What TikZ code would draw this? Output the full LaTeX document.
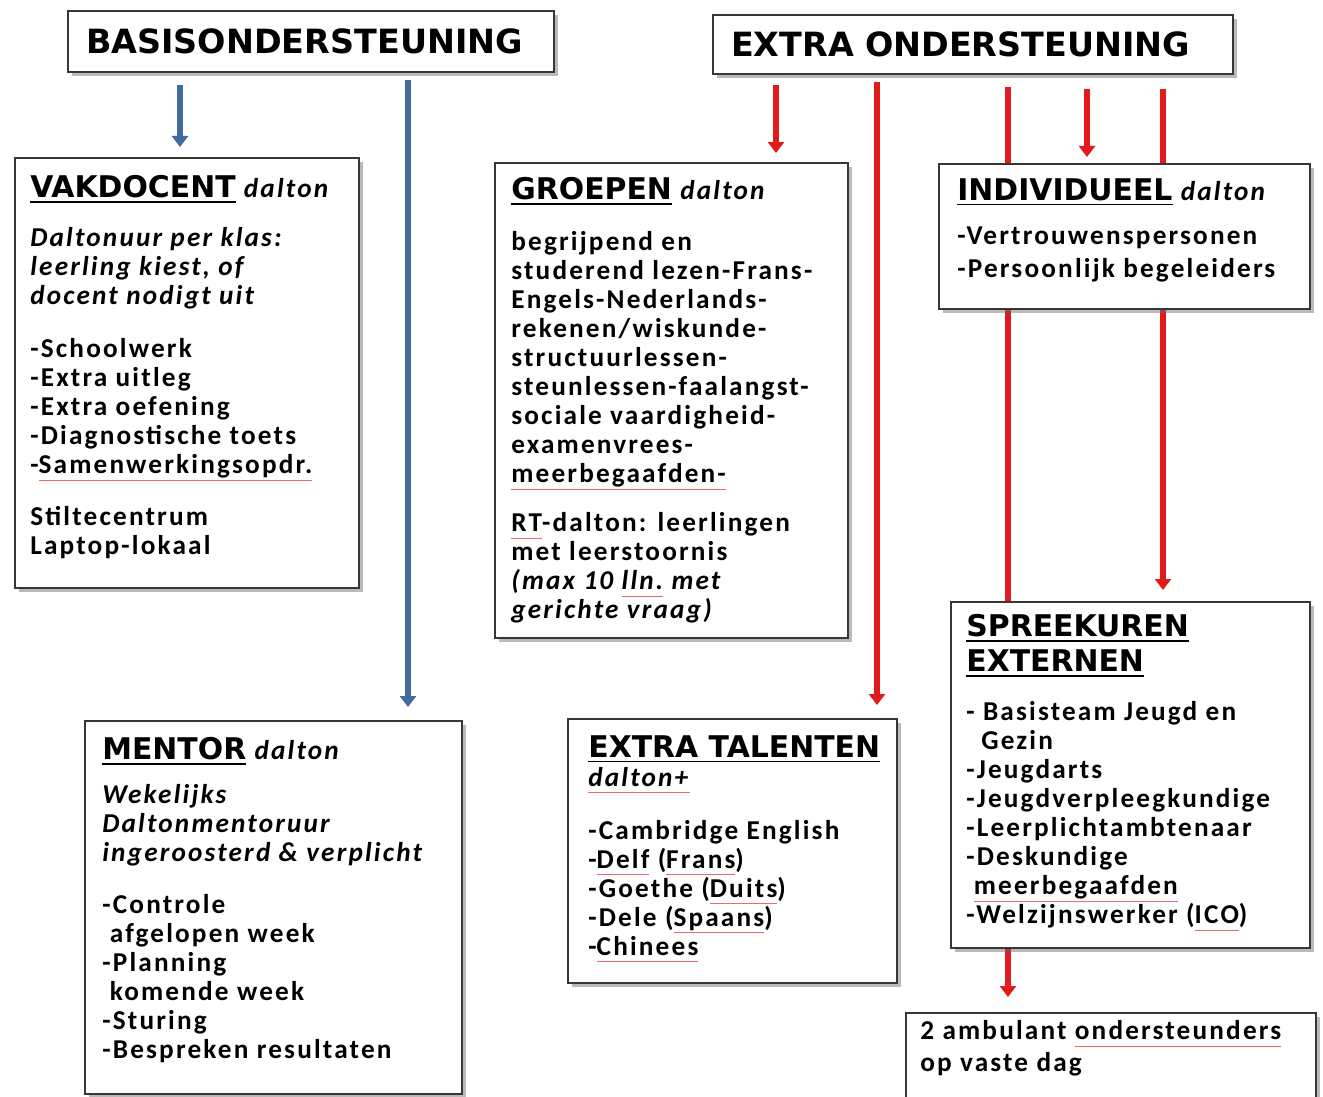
\documentclass[tikz,border=0pt]{standalone}
\usepackage{fontspec}
\setmainfont[LetterSpace=8]{Carlito}
\newfontfamily\headfont{DejaVu Sans}
\usetikzlibrary{arrows.meta,shadows,backgrounds}

\definecolor{basisblue}{RGB}{66,106,156}
\definecolor{extrared}{RGB}{226,26,26}
\definecolor{boxline}{RGB}{55,55,55}

\newsavebox{\linebox}
\newcommand{\hd}[1]{{\headfont\bfseries\fontsize{17}{20}\selectfont
  \sbox{\linebox}{#1}\rlap{\rule[-0.17em]{\wd\linebox}{0.9pt}}\usebox{\linebox}}}
\newcommand{\spell}[1]{\sbox{\linebox}{#1}%
  \rlap{\textcolor{extrared!65}{\rule[-0.55ex]{\wd\linebox}{0.6pt}}}\usebox{\linebox}}

\tikzset{
  box/.style={draw=boxline, line width=1.3pt, fill=white, anchor=north west, inner sep=0pt,
    drop shadow={shadow xshift=0.07cm, shadow yshift=-0.07cm, opacity=0.45, fill=black!60}},
  title/.style={box, inner xsep=0.36cm, align=left, font=\headfont\bfseries\fontsize{19}{22}\selectfont},
  txt/.style={anchor=north west, align=left, inner sep=0pt},
  bluearrow/.style={draw=basisblue, line width=3.4pt, -{Triangle[width=0.32cm,length=0.22cm]}},
  redarrow/.style={draw=extrared, line width=3.4pt, -{Triangle[width=0.32cm,length=0.22cm]}},
  redline/.style={draw=extrared, line width=3.4pt}
}

\begin{document}
\begin{tikzpicture}[font=\bfseries\fontsize{15.5}{16.5}\selectfont]
  \useasboundingbox (0,0) rectangle (26.46,-21.94);

  % top titles
  \node[title, text width=9.0cm, minimum height=1.22cm] (basis) at (1.34,-0.2) {BASISONDERSTEUNING};
  \node[title, text width=9.68cm, minimum height=1.18cm] (extra) at (14.24,-0.28) {EXTRA ONDERSTEUNING};

  % boxes
  \node[box, minimum width=6.88cm, minimum height=8.6cm] (vak) at (0.28,-3.14) {};
  \node[box, minimum width=7.06cm, minimum height=9.5cm] (groepen) at (9.88,-3.24) {};
  \node[box, minimum width=7.42cm, minimum height=2.9cm] (indiv) at (18.76,-3.26) {};
  \node[box, minimum width=7.18cm, minimum height=6.92cm] (spreek) at (19.0,-12.02) {};
  \node[box, minimum width=7.54cm, minimum height=7.46cm] (mentor) at (1.68,-14.4) {};
  \node[box, minimum width=6.58cm, minimum height=5.28cm] (talent) at (11.34,-14.36) {};
  \node[box, minimum width=8.2cm, minimum height=2.6cm] (ambu) at (18.1,-20.24) {};

  % texts
  \node[txt] (vaktext) at ([shift={(0.32,-0.36)}]vak.north west) {%
    \hd{VAKDOCENT} \textit{dalton}\\[0.4cm]
    \textit{Daltonuur per klas:}\\
    \textit{leerling kiest, of}\\
    \textit{docent nodigt uit}\\[0.48cm]
    -Schoolwerk\\
    -Extra uitleg\\
    -Extra oefening\\
    -Diagnostische toets\\
    -\spell{Samenwerkingsopdr.}\\[0.46cm]
    Stiltecentrum\\
    Laptop-lokaal};
  \node[txt] (groepentext) at ([shift={(0.34,-0.3)}]groepen.north west) {%
    \hd{GROEPEN} \textit{dalton}\\[0.44cm]
    begrijpend en\\
    studerend lezen-Frans-\\
    Engels-Nederlands-\\
    rekenen/wiskunde-\\
    structuurlessen-\\
    steunlessen-faalangst-\\
    sociale vaardigheid-\\
    examenvrees-\\
    \spell{meerbegaafden-}\\[0.4cm]
    \spell{RT}-dalton: leerlingen\\
    met leerstoornis\\
    \textit{(max 10 \spell{lln.} met}\\
    \textit{gerichte vraag)}};
  \node[txt] (indivtext) at ([shift={(0.38,-0.3)}]indiv.north west) {%
    \hd{INDIVIDUEEL} \textit{dalton}\\[0.3cm]
    -Vertrouwenspersonen\\[0.08cm]
    -Persoonlijk begeleiders};
  \node[txt] (spreektext) at ([shift={(0.32,-0.26)}]spreek.north west) {%
    \hd{SPREEKUREN}\\[0.12cm]
    \hd{EXTERNEN}\\[0.4cm]
    - Basisteam Jeugd en\\
    \hspace*{0.3cm}Gezin\\
    -Jeugdarts\\
    -Jeugdverpleegkundige\\
    -Leerplichtambtenaar\\
    -Deskundige\\
    \hspace*{0.15cm}\spell{meerbegaafden}\\
    -Welzijnswerker (\spell{ICO})};
  \node[txt] (mentortext) at ([shift={(0.36,-0.34)}]mentor.north west) {%
    \hd{MENTOR} \textit{dalton}\\[0.3cm]
    \textit{Wekelijks}\\
    \textit{Daltonmentoruur}\\
    \textit{ingeroosterd \& verplicht}\\[0.46cm]
    -Controle\\
    \hspace*{0.15cm}afgelopen week\\
    -Planning\\
    \hspace*{0.15cm}komende week\\
    -Sturing\\
    -Bespreken resultaten};
  \node[txt] (talenttext) at ([shift={(0.42,-0.34)}]talent.north west) {%
    \hd{EXTRA TALENTEN}\\
    \spell{\textit{dalton+}}\\[0.48cm]
    -Cambridge English\\
    -\spell{Delf} (\spell{Frans})\\
    -Goethe (\spell{Duits})\\
    -Dele (\spell{Spaans})\\
    -\spell{Chinees}};
  \node[txt] (ambutext) at ([shift={(0.3,-0.16)}]ambu.north west) {%
    2 ambulant \spell{ondersteunders}\\[0.06cm]
    op vaste dag};

  % connectors
  \coordinate (c1) at (3.6,0);
  \coordinate (c2) at (8.16,0);
  \coordinate (c3) at (15.52,0);
  \coordinate (c4) at (17.54,0);
  \coordinate (c5) at (20.16,0);
  \coordinate (c6) at (21.74,0);
  \coordinate (c7) at (23.26,0);
  \begin{scope}[on background layer]
    \draw[bluearrow, shorten <=0.24cm, shorten >=0.2cm] (c1 |- basis.south) -- (c1 |- vak.north);
    \draw[bluearrow, shorten <=0.14cm, shorten >=0.26cm] (c2 |- basis.south) -- (c2 |- mentor.north);
    \draw[redarrow, shorten <=0.2cm, shorten >=0.18cm] (c3 |- extra.south) -- (c3 |- groepen.north);
    \draw[redarrow, shorten <=0.14cm, shorten >=0.26cm] (c4 |- extra.south) -- (c4 |- talent.north);
    \draw[redline, shorten <=0.24cm] (c5 |- extra.south) -- (c5 |- spreek.north);
    \draw[redarrow, shorten <=0.28cm, shorten >=0.12cm] (c6 |- extra.south) -- (c6 |- indiv.north);
    \draw[redarrow, shorten <=0.28cm, shorten >=0.22cm] (c7 |- extra.south) -- (c7 |- spreek.north);
    \draw[redarrow, shorten >=0.3cm] (c5 |- spreek.south) -- (c5 |- ambu.north);
  \end{scope}
\end{tikzpicture}
\end{document}
